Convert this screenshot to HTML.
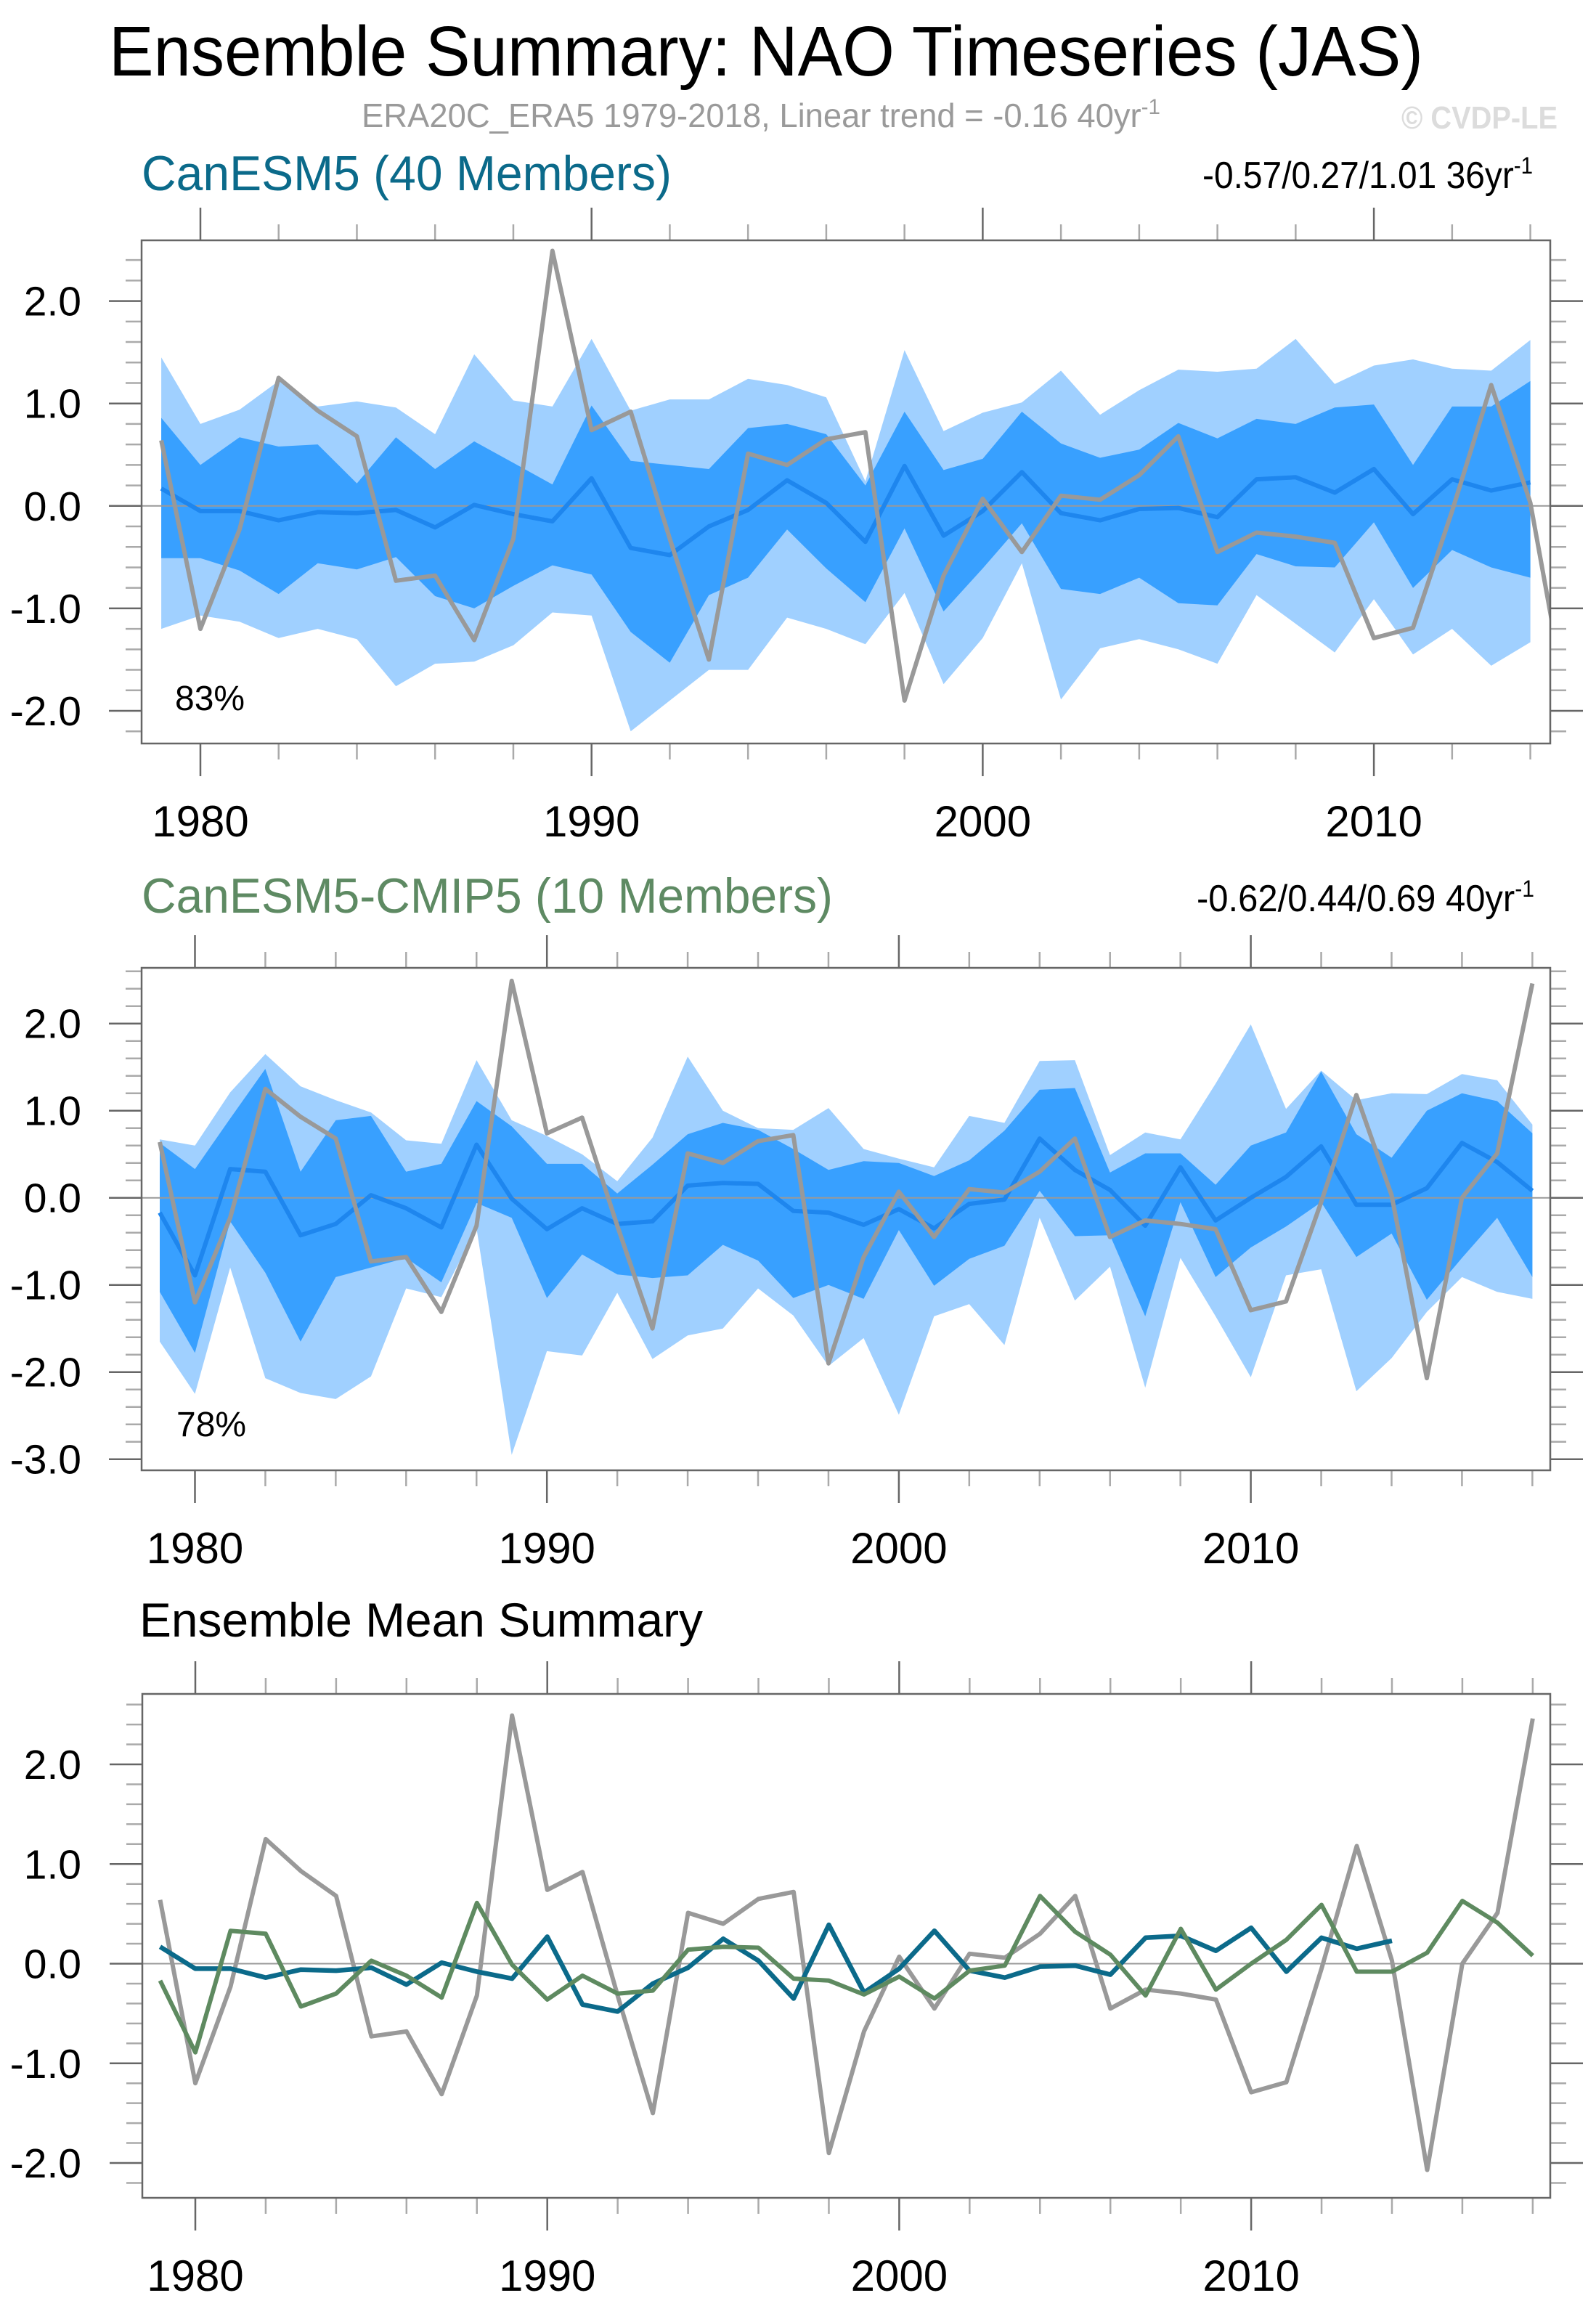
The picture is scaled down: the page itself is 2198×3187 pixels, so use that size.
<!DOCTYPE html>
<html><head><meta charset="utf-8"><title>NAO Timeseries (JAS)</title>
<style>
html,body{margin:0;padding:0;background:#fff;}
svg{display:block;font-family:"Liberation Sans",Arial,sans-serif;}
</style></head>
<body>
<svg id="chart" xmlns="http://www.w3.org/2000/svg" width="2198" height="3187" viewBox="0 0 2198 3187">
<rect x="0" y="0" width="2198" height="3187" fill="#fff"/>
<text x="150" y="104" font-size="97" fill="#000" textLength="1810" lengthAdjust="spacingAndGlyphs">Ensemble Summary: NAO Timeseries (JAS)</text>
<text x="498" y="175" font-size="46" fill="#9a9a9a" textLength="1100" lengthAdjust="spacingAndGlyphs">ERA20C_ERA5 1979-2018, Linear trend = -0.16 40yr<tspan dy="-18" font-size="30">-1</tspan></text>
<text x="1930" y="177" font-size="44" font-weight="bold" fill="#dcdcdc" textLength="215" lengthAdjust="spacingAndGlyphs">© CVDP-LE</text>

<text x="195" y="262" font-size="68" fill="#0b6a8a" textLength="730" lengthAdjust="spacingAndGlyphs">CanESM5 (40 Members)</text>
<text x="1656" y="259" font-size="52" fill="#000" textLength="455" lengthAdjust="spacingAndGlyphs">-0.57/0.27/1.01 36yr<tspan dy="-20" font-size="32">-1</tspan></text>

<text x="195" y="1257" font-size="68" fill="#5e8a63" textLength="952" lengthAdjust="spacingAndGlyphs">CanESM5-CMIP5 (10 Members)</text>
<text x="1648" y="1255" font-size="52" fill="#000" textLength="465" lengthAdjust="spacingAndGlyphs">-0.62/0.44/0.69 40yr<tspan dy="-20" font-size="32">-1</tspan></text>

<text x="192" y="2254" font-size="66" fill="#000" textLength="776" lengthAdjust="spacingAndGlyphs">Ensemble Mean Summary</text>

<g id="p1"></g>
<g id="p2"></g>
<g id="p3"></g>
</svg>
<script>
// ---------- data ----------
const obsYears = [1979,1980,1981,1982,1983,1984,1985,1986,1987,1988,1989,1990,1991,1992,1993,1994,1995,1996,1997,1998,1999,2000,2001,2002,2003,2004,2005,2006,2007,2008,2009,2010,2011,2012,2013,2014,2015,2016,2017,2018];
const obsValues = [0.64,-1.20,-0.23,1.25,0.93,0.68,-0.73,-0.68,-1.31,-0.32,2.49,0.74,0.92,-0.32,-1.50,0.51,0.40,0.65,0.72,-1.90,-0.68,0.07,-0.45,0.10,0.06,0.30,0.68,-0.45,-0.26,-0.30,-0.36,-1.29,-1.19,-0.05,1.18,0.03,-2.07,0.00,0.51,2.46];

const c5Years = obsYears.slice(0,36);
const c5Mean = [0.17,-0.05,-0.05,-0.14,-0.06,-0.07,-0.04,-0.21,0.01,-0.08,-0.15,0.27,-0.41,-0.48,-0.20,-0.04,0.25,0.03,-0.35,0.39,-0.29,-0.05,0.33,-0.07,-0.14,-0.03,-0.02,-0.11,0.26,0.28,0.13,0.36,-0.08,0.26,0.15,0.23];
const c5LightHi = [1.45,0.80,0.94,1.22,0.97,1.02,0.96,0.70,1.48,1.03,0.97,1.63,0.93,1.04,1.04,1.24,1.18,1.06,0.24,1.52,0.73,0.91,1.01,1.32,0.89,1.13,1.33,1.31,1.34,1.63,1.19,1.37,1.43,1.34,1.32,1.62];
const c5DarkHi = [0.86,0.40,0.67,0.58,0.60,0.22,0.67,0.36,0.63,0.42,0.21,0.98,0.44,0.40,0.36,0.76,0.80,0.70,0.20,0.92,0.35,0.46,0.92,0.61,0.47,0.55,0.81,0.66,0.85,0.80,0.96,0.99,0.40,0.97,0.97,1.22];
const c5DarkLo = [-0.51,-0.51,-0.63,-0.86,-0.56,-0.62,-0.50,-0.88,-1.00,-0.78,-0.58,-0.67,-1.23,-1.53,-0.87,-0.70,-0.23,-0.61,-0.94,-0.22,-1.03,-0.61,-0.17,-0.81,-0.86,-0.70,-0.95,-0.97,-0.47,-0.59,-0.60,-0.16,-0.80,-0.43,-0.60,-0.70];
const c5LightLo = [-1.20,-1.07,-1.13,-1.29,-1.20,-1.30,-1.76,-1.54,-1.52,-1.36,-1.04,-1.07,-2.20,-1.90,-1.60,-1.60,-1.09,-1.20,-1.35,-0.85,-1.74,-1.29,-0.56,-1.89,-1.39,-1.30,-1.40,-1.54,-0.87,-1.15,-1.43,-0.91,-1.45,-1.20,-1.56,-1.33];

const cmYears = obsYears.slice();
const cmMean = [-0.17,-0.89,0.33,0.30,-0.43,-0.30,0.03,-0.12,-0.34,0.61,-0.01,-0.36,-0.12,-0.30,-0.27,0.14,0.17,0.16,-0.15,-0.17,-0.31,-0.13,-0.35,-0.07,-0.02,0.68,0.32,0.09,-0.32,0.35,-0.26,0.00,0.24,0.59,-0.08,-0.08,0.11,0.63,0.41,0.08];
const cmLightHi = [0.67,0.60,1.21,1.65,1.28,1.12,0.98,0.66,0.62,1.58,0.89,0.71,0.50,0.19,0.69,1.62,1.00,0.80,0.78,1.03,0.56,0.45,0.35,0.94,0.86,1.57,1.58,0.49,0.75,0.67,1.31,1.99,1.02,1.46,1.12,1.20,1.19,1.42,1.35,0.84];
const cmDarkHi = [0.63,0.33,0.91,1.48,0.30,0.89,0.94,0.30,0.39,1.11,0.82,0.39,0.39,0.05,0.38,0.73,0.86,0.78,0.56,0.32,0.42,0.40,0.25,0.43,0.77,1.24,1.26,0.29,0.51,0.51,0.15,0.60,0.75,1.45,0.73,0.46,1.00,1.20,1.11,0.74];
const cmDarkLo = [-1.08,-1.78,-0.27,-0.86,-1.65,-0.91,-0.80,-0.69,-0.97,-0.06,-0.23,-1.15,-0.65,-0.88,-0.92,-0.89,-0.54,-0.72,-1.15,-1.00,-1.16,-0.37,-1.01,-0.70,-0.55,0.08,-0.44,-0.43,-1.36,-0.05,-0.91,-0.57,-0.33,-0.05,-0.68,-0.41,-1.17,-0.69,-0.23,-0.91];
const cmLightLo = [-1.65,-2.25,-0.80,-2.07,-2.24,-2.31,-2.05,-1.04,-1.14,-0.35,-2.95,-1.76,-1.81,-1.09,-1.85,-1.58,-1.50,-1.04,-1.35,-1.93,-1.61,-2.49,-1.36,-1.22,-1.69,-0.23,-1.18,-0.79,-2.18,-0.69,-1.36,-2.06,-0.89,-0.82,-2.22,-1.84,-1.31,-0.91,-1.08,-1.16];

const p1YTicks = [2,1,0,-1,-2];
const p2YTicks = [2,1,0,-1,-2,-3];
const p3YTicks = [2,1,0,-1,-2];
const xTickYears = [1980,1990,2000,2010];
const pct1 = "83%";
const pct2 = "78%";

// ---------- rendering ----------
const NS = "http://www.w3.org/2000/svg";
function mk(tag, attrs, parent){
  const e = document.createElementNS(NS, tag);
  for (const k in attrs) e.setAttribute(k, attrs[k]);
  if (parent) parent.appendChild(e);
  return e;
}
function makeAxes(cfg){
  const xs = y => cfg.x1980 + (y-1980)*cfg.perYear;
  const ys = v => cfg.zeroY - v*cfg.perUnit;
  return {xs, ys};
}
function drawFrame(g, cfg, ax, yticks, id){
  const L=cfg.left, R=cfg.right, T=cfg.top, B=cfg.bottom;
  const vTop=(cfg.zeroY-T)/cfg.perUnit, vBot=(cfg.zeroY-B)/cfg.perUnit;
  for (let k=Math.ceil(vBot*5); k<=Math.floor(vTop*5); k++){
    const v=k/5, y=ax.ys(v);
    const major = (k%5===0);
    const len = major?45:22;
    const col = major?"#666":"#aaa";
    const t1=mk("line",{x1:L-len,y1:y,x2:L,y2:y,stroke:col,"stroke-width":2.5},g);
    
    
    const t2=mk("line",{x1:R,y1:y,x2:R+len,y2:y,stroke:col,"stroke-width":2.5},g);
    
    
  }
  for (let yr=1980; yr<=cfg.lastYear; yr+=2){
    const x=ax.xs(yr);
    if (x<L||x>R) continue;
    const major=(yr%10===0);
    const len=major?45:22;
    const col=major?"#666":"#aaa";
    const b=mk("line",{x1:x,y1:B,x2:x,y2:B+len,stroke:col,"stroke-width":2.5},g);
    
    
    const t=mk("line",{x1:x,y1:T-len,x2:x,y2:T,stroke:col,"stroke-width":2.5},g);
    
    
  }
  yticks.forEach(v=>{
    const tx=mk("text",{x:112,y:ax.ys(v)+20,"font-size":57,"text-anchor":"end",fill:"#000"},g);
    
    
    tx.textContent=v.toFixed(1);
  });
  xTickYears.forEach(yr=>{
    const tx=mk("text",{x:ax.xs(yr),y:B+128,"font-size":60,"text-anchor":"middle",fill:"#000"},g);
    
    
    tx.textContent=String(yr);
  });
  const cp=mk("clipPath",{id:id},g);
  mk("rect",{x:L,y:T,width:R-L,height:B-T},cp);
}
function pts(ax, years, vals){ return years.map((y,i)=>ax.xs(y).toFixed(1)+","+ax.ys(vals[i]).toFixed(1)); }
function band(g, ax, years, hi, lo, fill, name, clip){
  const p = pts(ax,years,hi).concat(pts(ax,years,lo).reverse());
  const e=mk("polygon",{points:p.join(" "),fill:fill,"clip-path":"url(#"+clip+")"},g);
  
  
}
function line(g, ax, years, vals, col, w, name, clip){
  const e=mk("polyline",{points:pts(ax,years,vals).join(" "),fill:"none",stroke:col,"stroke-width":w,"stroke-linejoin":"round","clip-path":"url(#"+clip+")"},g);
  
  
}
function zero(g, cfg, ax){
  const e=mk("line",{x1:cfg.left,y1:ax.ys(0),x2:cfg.right,y2:ax.ys(0),stroke:"#999","stroke-width":2},g);
  
  
}
function frameRect(g,cfg){
  const e=mk("rect",{x:cfg.left,y:cfg.top,width:cfg.right-cfg.left,height:cfg.bottom-cfg.top,fill:"none",stroke:"#666","stroke-width":2.5},g);
  
  
}
const LIGHT="#a0d0ff", DARK="#38a0ff", MEAN="#1e86ee", OBS="#999";

// Panel 1
const cfg1={left:195,right:2135,top:331,bottom:1024,x1980:276,perYear:53.87,zeroY:696.8,perUnit:141.1,lastYear:2014};
const g1=document.getElementById("p1"); const a1=makeAxes(cfg1);
drawFrame(g1,cfg1,a1,p1YTicks,"clip1");
band(g1,a1,c5Years,c5LightHi,c5LightLo,LIGHT,"canesm5-outer-spread","clip1");
band(g1,a1,c5Years,c5DarkHi,c5DarkLo,DARK,"canesm5-inner-spread","clip1");
zero(g1,cfg1,a1);
line(g1,a1,c5Years,c5Mean,MEAN,6,"canesm5-ensemble-mean-line","clip1");
line(g1,a1,obsYears,obsValues,OBS,6,"observed-nao-line","clip1");
frameRect(g1,cfg1);
{const t=mk("text",{x:241,y:978,"font-size":48,fill:"#000"},g1);


t.textContent=pct1;}

// Panel 2
const cfg2={left:195,right:2135,top:1333,bottom:2025,x1980:268.5,perYear:48.47,zeroY:1649.7,perUnit:120,lastYear:2018};
const g2=document.getElementById("p2"); const a2=makeAxes(cfg2);
drawFrame(g2,cfg2,a2,p2YTicks,"clip2");
band(g2,a2,cmYears,cmLightHi,cmLightLo,LIGHT,"cmip5-outer-spread","clip2");
band(g2,a2,cmYears,cmDarkHi,cmDarkLo,DARK,"cmip5-inner-spread","clip2");
zero(g2,cfg2,a2);
line(g2,a2,cmYears,cmMean,MEAN,6,"cmip5-ensemble-mean-line","clip2");
line(g2,a2,obsYears,obsValues,OBS,6,"observed-nao-line","clip2");
frameRect(g2,cfg2);
{const t=mk("text",{x:243,y:1978,"font-size":48,fill:"#000"},g2);


t.textContent=pct2;}

// Panel 3
const cfg3={left:196,right:2135,top:2333,bottom:3027,x1980:269,perYear:48.47,zeroY:2704.5,perUnit:137.25,lastYear:2018};
const g3=document.getElementById("p3"); const a3=makeAxes(cfg3);
drawFrame(g3,cfg3,a3,p3YTicks,"clip3");
zero(g3,cfg3,a3);
line(g3,a3,obsYears,obsValues,OBS,6,"observed-nao-line","clip3");
line(g3,a3,c5Years,c5Mean,"#0b6a8a",6.5,"canesm5-mean-line","clip3");
line(g3,a3,cmYears,cmMean,"#5e8a60",6,"cmip5-mean-line","clip3");
frameRect(g3,cfg3);
</script>
</body></html>
